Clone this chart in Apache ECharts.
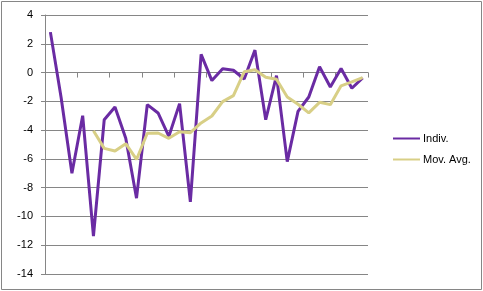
<!DOCTYPE html>
<html>
<head>
<meta charset="utf-8">
<script src="https://cdn.jsdelivr.net/npm/echarts@6/dist/echarts.min.js"></script>
<style>
html,body{margin:0;padding:0;background:#fff;}
#c{width:483px;height:291px;}
</style>
</head>
<body>
<div id="c"></div>
<script>
const categories = Array.from({length: 30}, (_, i) => String(i + 1));
const indiv = [2.81, -1.75, -7.0, -3.0, -11.37, -3.28, -2.4, -4.56, -8.73, -2.23,
               -2.81, -4.44, -2.16, -8.98, 1.26, -0.56, 0.26, 0.16, -0.45, 1.56,
               -3.28, -0.21, -6.19, -2.7, -1.7, 0.4, -1.0, 0.28, -1.09, -0.37];
const movAvg = [null, null, null, null, -4.05, -5.27, -5.45, -4.94, -6.04, -4.22,
                -4.2, -4.57, -4.12, -4.18, -3.5, -3.02, -2.02, -1.6, 0.05, 0.2,
                -0.33, -0.47, -1.7, -2.2, -2.8, -2.07, -2.23, -0.92, -0.65, -0.35];
const yTicks = {min: -14, max: 4, interval: 2};
const seriesNames = ['Indiv.', 'Mov. Avg.'];

const chart = echarts.init(document.getElementById('c'), null, {renderer: 'canvas'});
chart.setOption({
  animation: false,
  backgroundColor: '#fff',
  textStyle: {fontFamily: 'Liberation Sans'},
  graphic: [{
    type: 'rect', shape: {x: 1.5, y: 1.5, width: 480, height: 288},
    style: {fill: 'none', stroke: '#868686', lineWidth: 1}, silent: true
  }],
  grid: {left: 45, right: 115, top: 15, bottom: 17, containLabel: false},
  legend: {
    orient: 'vertical', left: 388, top: 127, itemWidth: 27, itemHeight: 2, itemGap: 8,
    icon: 'rect',
    textStyle: {fontSize: 11, color: '#000', padding: [0, 0, 0, -2], lineHeight: 13},
    data: seriesNames
  },
  xAxis: {
    type: 'category', data: categories, boundaryGap: true,
    axisLine: {onZero: true, lineStyle: {color: '#868686', width: 1}},
    axisTick: {show: true, interval: 2, length: 5, inside: false, lineStyle: {color: '#868686'}},
    axisLabel: {show: false},
    splitLine: {show: false}
  },
  yAxis: {
    type: 'value', min: yTicks.min, max: yTicks.max, interval: yTicks.interval,
    axisLine: {show: true, lineStyle: {color: '#868686', width: 1}},
    axisTick: {show: true, length: 4, lineStyle: {color: '#868686'}},
    axisLabel: {fontSize: 11, color: '#000', margin: 12},
    splitLine: {show: true, lineStyle: {color: '#868686', width: 1}}
  },
  series: [
    {name: seriesNames[0], type: 'line', data: indiv, symbol: 'none', smooth: false,
     lineStyle: {color: '#6a2ba3', width: 3}, itemStyle: {color: '#6a2ba3'}},
    {name: seriesNames[1], type: 'line', data: movAvg, symbol: 'none', smooth: false,
     lineStyle: {color: '#d8cf86', width: 3}, itemStyle: {color: '#d8cf86'}}
  ]
});
</script>
</body>
</html>
